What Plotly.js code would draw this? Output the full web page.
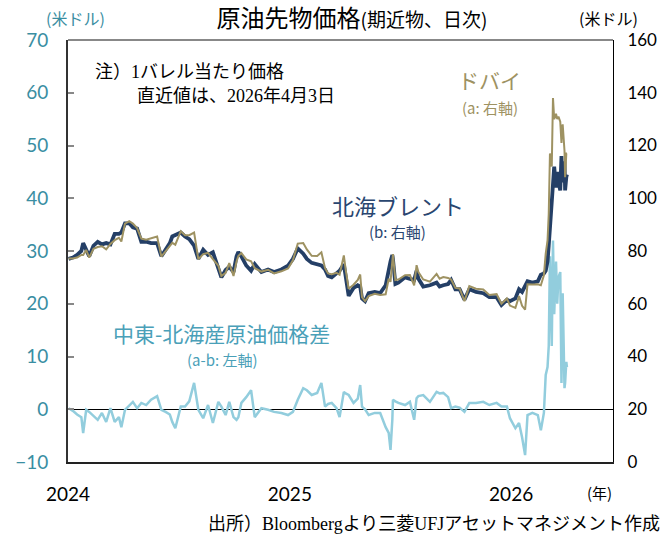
<!DOCTYPE html>
<html><head><meta charset="utf-8">
<script src="https://cdn.plot.ly/plotly-3.0.1.min.js"></script>
<style>html,body{margin:0;padding:0;background:#fff}</style>
</head><body><div id="chart" style="width:664px;height:535px"></div>
<script>
const dates = ["2024-01-02","2024-01-09","2024-01-16","2024-01-23","2024-01-26","2024-01-31","2024-02-05","2024-02-12","2024-02-19","2024-02-26",
"2024-03-04","2024-03-11","2024-03-18","2024-03-25","2024-03-29","2024-04-04","2024-04-11","2024-04-17","2024-04-24","2024-05-01",
"2024-05-09","2024-05-17","2024-05-27","2024-06-03","2024-06-10","2024-06-17","2024-06-21","2024-06-26","2024-07-05","2024-07-12",
"2024-07-19","2024-07-27","2024-08-03","2024-08-11","2024-08-19","2024-08-27","2024-09-05","2024-09-10","2024-09-17","2024-09-23",
"2024-09-30","2024-10-05","2024-10-08","2024-10-13","2024-10-21","2024-10-29","2024-11-04","2024-11-15","2024-11-26","2024-12-06",
"2024-12-18","2024-12-29","2025-01-06","2025-01-14","2025-01-23","2025-01-29","2025-02-06","2025-02-15","2025-02-22","2025-02-28",
"2025-03-05","2025-03-11","2025-03-19","2025-03-24","2025-03-31","2025-04-03","2025-04-08","2025-04-16","2025-04-23","2025-04-27",
"2025-04-30","2025-05-05","2025-05-11","2025-05-21","2025-05-30","2025-06-08","2025-06-13","2025-06-16","2025-06-19","2025-06-20",
"2025-06-24","2025-06-29","2025-07-10","2025-07-18","2025-07-25","2025-07-29","2025-08-01","2025-08-09","2025-08-20","2025-08-31",
"2025-09-05","2025-09-11","2025-09-19","2025-09-24","2025-10-01","2025-10-08","2025-10-16","2025-10-24","2025-11-04","2025-11-16",
"2025-11-26","2025-12-08","2025-12-16","2025-12-25","2025-12-30","2026-01-08","2026-01-14","2026-01-19","2026-01-24","2026-01-28",
"2026-02-05","2026-02-14","2026-02-19","2026-02-24","2026-02-27","2026-03-02","2026-03-04","2026-03-06","2026-03-09","2026-03-11",
"2026-03-13","2026-03-16","2026-03-18","2026-03-20","2026-03-23","2026-03-25","2026-03-26","2026-03-27","2026-03-30","2026-03-31",
"2026-04-02","2026-04-03"];

const brent = [77.0,77.5,78.5,80.0,83.0,80.5,78.0,82.0,83.5,82.5,
83.0,82.5,86.5,86.5,87.0,90.5,90.5,89.0,88.5,83.5,
83.5,83.0,83.0,78.0,80.5,83.0,85.5,86.0,87.0,85.5,
84.5,82.0,77.0,80.5,78.5,79.5,73.0,70.0,72.8,74.0,
72.0,78.0,79.6,78.0,74.5,72.5,75.0,72.0,73.0,72.0,
73.0,74.5,77.0,81.0,79.0,77.0,75.5,75.0,74.5,73.0,
70.5,70.0,71.5,72.5,75.0,70.0,63.0,66.0,67.0,66.5,
62.0,61.0,64.0,64.5,64.0,67.0,74.0,76.0,78.5,77.0,
67.5,68.0,70.0,69.5,69.0,72.5,69.5,66.5,67.0,68.0,
66.5,67.0,67.5,69.0,65.5,65.5,61.5,65.5,64.5,64.0,
62.5,62.5,59.5,61.5,61.0,62.0,65.5,64.5,66.5,68.5,
68.0,68.5,71.0,71.5,72.5,76.0,82.0,88.0,100.0,106.0,
112.0,104.0,110.0,106.0,103.0,116.0,112.0,106.0,114.0,103.0,
108.0,109.0];

const dubai = [77.2,77.2,77.5,78.5,78.5,80.4,77.5,80.8,81.5,81.8,
80.6,82.7,84.1,85.0,83.6,90.4,91.3,90.4,88.7,84.7,
84.3,84.8,85.5,77.9,80.0,82.0,83.1,82.4,87.5,86.0,
86.0,87.0,76.9,78.8,79.3,76.9,74.4,70.5,71.7,75.4,
70.5,76.0,78.1,79.2,76.8,76.1,73.5,72.2,72.9,71.5,
72.3,73.4,76.5,82.8,83.0,80.6,78.2,78.1,79.5,73.5,
71.5,71.2,71.7,71.0,78.3,73.0,65.7,67.2,69.0,71.1,
62.5,61.0,62.9,63.8,63.3,63.6,69.5,68.3,76.5,78.8,
69.0,69.2,70.8,70.9,67.0,74.6,72.0,69.2,68.4,71.3,
69.5,70.1,69.8,69.2,66.0,65.8,61.0,66.7,65.7,65.4,
63.3,63.7,60.0,62.0,59.3,58.4,62.9,59.2,57.8,67.4,
67.3,67.4,67.0,70.8,79.0,84.0,94.0,117.0,112.0,138.0,
130.0,132.0,130.0,131.0,129.0,121.0,127.0,128.0,118.0,108.0,
117.0,117.0];

const spread = [0.2,-0.3,-1.0,-1.5,-4.5,-0.1,-0.5,-1.2,-2.0,-0.7,
-2.4,0.2,-2.4,-1.5,-3.4,-0.1,0.8,1.4,0.2,1.2,
0.8,1.8,2.5,-0.1,-0.5,-1.0,-2.4,-3.6,0.5,0.5,
1.5,5.0,-0.1,-1.7,0.8,-2.6,1.4,0.5,-1.1,1.4,
-1.5,-2.0,-1.5,1.2,2.3,3.6,-1.5,0.2,-0.1,-0.5,
-0.7,-1.1,-0.5,1.8,4.0,3.6,2.7,3.1,5.0,0.5,
1.0,1.2,0.2,-1.5,3.3,3.0,2.7,1.2,2.0,4.6,
0.5,0.0,-1.1,-0.7,-0.7,-3.4,-4.5,-7.7,-2.0,1.8,
1.5,1.2,0.8,1.4,-2.0,2.1,2.5,2.7,1.4,3.3,
3.0,3.1,2.3,0.2,0.5,0.3,-0.5,1.2,1.2,1.4,
0.8,1.2,0.5,0.5,-1.7,-3.6,-2.6,-5.3,-8.7,-1.1,
-0.7,-1.1,-4.0,-0.7,6.5,8.0,12.0,29.0,12.0,32.0,
18.0,28.0,20.0,25.0,26.0,5.0,15.0,22.0,4.0,5.0,
9.0,8.0];

const xTickVals = ["2024-01-01","2025-01-01","2026-01-01"];
const xTickText = ["2024","2025","2026"];

const teal = "#3a8ea2";
const jp = "'Noto Sans CJK JP', 'Noto Sans', sans-serif";
const num = "Lato, 'Noto Sans', sans-serif";
const serif = "'Liberation Serif', 'Noto Sans CJK JP', serif";

const traces = [
  {x: dates, y: spread, type: "scatter", mode: "lines", yaxis: "y",
   line: {color: "#92cddd", width: 2.5}, hoverinfo: "skip"},
  {x: dates, y: brent, type: "scatter", mode: "lines", yaxis: "y2",
   line: {color: "#243f66", width: 3.8}, hoverinfo: "skip"},
  {x: dates, y: dubai, type: "scatter", mode: "lines", yaxis: "y2",
   line: {color: "#9e9262", width: 2}, hoverinfo: "skip"}
];

const ann = (text, x, y, size, color, anchor, family) => ({
  text, x, y, xref: "paper", yref: "paper", showarrow: false,
  xanchor: anchor || "center", yanchor: "middle",
  font: {size, color, family: family || jp}
});

const layout = {
  width: 664, height: 535,
  margin: {l: 68, r: 51, t: 40, b: 73},
  paper_bgcolor: "#fff", plot_bgcolor: "#fff",
  showlegend: false,
  title: {text: "原油先物価格<span style=\"font-size:19px\">(期近物、日次)</span>",
          x: 0.53, xanchor: "center", y: 0.966, yanchor: "middle",
          font: {size: 24, color: "#000", family: jp}},
  xaxis: {type: "date", range: ["2024-01-01", "2026-06-18"],
          tickvals: xTickVals, ticktext: xTickText, ticks: "",
          tickfont: {size: 19, color: "#000", family: num},
          ticklabelstandoff: 14,
          showgrid: false, zeroline: false,
          showline: true, linecolor: "#222", linewidth: 2},
  yaxis: {range: [-10, 70], dtick: 10, tick0: 0,
          tickfont: {size: 19, color: teal, family: num},
          ticks: "inside", ticklen: 6, tickcolor: "#888", tickwidth: 2,
          ticklabelstandoff: 14,
          showgrid: false, zeroline: true, zerolinecolor: "#000", zerolinewidth: 1,
          showline: true, linecolor: "#333", linewidth: 2},
  yaxis2: {range: [0, 160], dtick: 20, overlaying: "y", side: "right",
          tickfont: {size: 17, color: "#000", family: num},
          ticks: "", ticklabelstandoff: 10,
          showgrid: false, zeroline: false,
          showline: true, linecolor: "#000", linewidth: 1},
  shapes: [
    {type: "line", xref: "paper", yref: "paper", x0: 0, x1: 1, y0: 1, y1: 1,
     line: {color: "#888", width: 2}}
  ],
  annotations: [
    ann("(米ドル)", 0.0138, 1.052, 16, teal),
    ann("(米ドル)", 0.991, 1.052, 16, "#000"),
    ann("注）1バレル当たり価格", 0.046, 0.924, 18, "#000", "left", serif),
    ann("直近値は、2026年4月3日", 0.123, 0.867, 18, "#000", "left", serif),
    ann("ドバイ", 0.774, 0.905, 21, "#9e9262"),
    ann("(a: 右軸)", 0.774, 0.839, 15, "#9e9262"),
    ann("北海ブレント", 0.6055, 0.609, 22, "#2a4670"),
    ann("(b: 右軸)", 0.6055, 0.547, 15, "#2a4670"),
    ann("中東-北海産原油価格差", 0.281, 0.306, 21, "#4aa0b8"),
    ann("(a-b: 左軸)", 0.2826, 0.242, 15, "#4aa0b8"),
    ann("(年)", 0.976, -0.073, 15, "#000"),
    ann("出所）Bloombergより三菱UFJアセットマネジメント作成", 1.09, -0.147, 18, "#000", "right", serif)
  ]
};

Plotly.newPlot("chart", traces, layout, {displayModeBar: false, staticPlot: true});
</script>
</body></html>
